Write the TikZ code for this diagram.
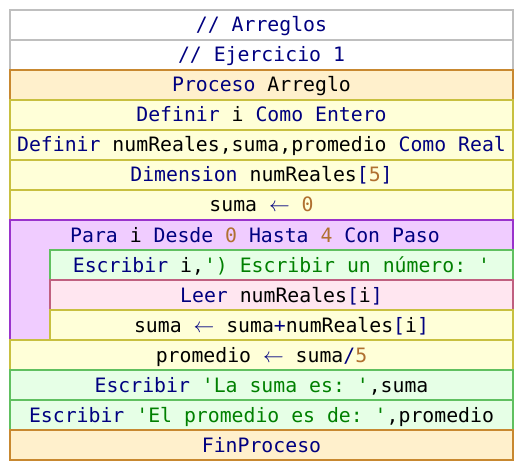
\documentclass[tikz,border=0pt]{standalone}
\usepackage{fontspec}
\setmonofont{DejaVu Sans Mono}
\definecolor{kwc}{RGB}{0,0,128}
\definecolor{numc}{RGB}{176,112,48}
\definecolor{strc}{RGB}{0,128,0}
\definecolor{cmtD}{RGB}{191,191,191}
\definecolor{prcF}{RGB}{255,240,204}
\definecolor{prcD}{RGB}{200,136,48}
\definecolor{yelF}{RGB}{255,255,216}
\definecolor{yelD}{RGB}{200,192,64}
\definecolor{purF}{RGB}{240,204,255}
\definecolor{purD}{RGB}{153,51,204}
\definecolor{grnF}{RGB}{230,255,230}
\definecolor{grnD}{RGB}{96,192,96}
\definecolor{pnkF}{RGB}{255,230,240}
\definecolor{pnkD}{RGB}{192,96,128}
\newcommand{\kw}[1]{\textcolor{kwc}{#1}}
\newcommand{\nm}[1]{\textcolor{numc}{#1}}
\newcommand{\st}[1]{\textcolor{strc}{#1}}
\newcommand{\asg}{\textcolor{kwc}{$\leftarrow$}}
\tikzset{
  codefont/.style={font=\ttfamily\fontsize{19.8}{24}\selectfont, text height=18pt, text depth=4pt, inner sep=0pt, outer sep=0pt},
  row/.style={codefont, rectangle, anchor=north west, minimum height=30pt, line width=2pt},
  outer/.style={row, minimum width=503pt},
  inner/.style={row, minimum width=463pt},
  cmt/.style={fill=white, draw=cmtD},
  prc/.style={fill=prcF, draw=prcD},
  yel/.style={fill=yelF, draw=yelD},
  pur/.style={fill=purF, draw=purD},
  grn/.style={fill=grnF, draw=grnD},
  pnk/.style={fill=pnkF, draw=pnkD},
}
\begin{document}
\begin{tikzpicture}[x=1pt,y=-1pt]
\useasboundingbox (0,0) rectangle (524,470);
\node[outer,cmt] (r1) at (10,10) {\kw{// Arreglos}};
\node[outer,cmt] (r2) at (10,40) {\kw{// Ejercicio 1}};
\node[outer,prc] (r3) at (10,70) {\kw{Proceso} Arreglo};
\node[outer,yel] (r4) at (10,100) {\kw{Definir} i \kw{Como Entero}};
\node[outer,yel] (r5) at (10,130) {\kw{Definir} numReales,suma,promedio \kw{Como Real}};
\node[outer,yel] (r6) at (10,160) {\kw{Dimension} numReales\kw{[}\nm{5}\kw{]}};
\node[outer,yel] (r7) at (10,190) {suma \asg{} \nm{0}};
\node[outer,pur,minimum height=120pt] (loop) at (10,220) {};
\node[codefont] (hdr) at (255,235) {\kw{Para} i \kw{Desde} \nm{0} \kw{Hasta} \nm{4} \kw{Con Paso}};
\node[inner,grn] (r9) at (50,250) {\kw{Escribir} i,\st{') Escribir un número: '}};
\node[inner,pnk] (r10) at (50,280) {\kw{Leer} numReales\kw{[}i\kw{]}};
\node[inner,yel] (r11) at (50,310) {suma \asg{} suma\kw{+}numReales\kw{[}i\kw{]}};
\node[outer,yel] (r12) at (10,340) {promedio \asg{} suma\kw{/}\nm{5}};
\node[outer,grn] (r13) at (10,370) {\kw{Escribir} \st{'La suma es: '},suma};
\node[outer,grn] (r14) at (10,400) {\kw{Escribir} \st{'El promedio es de: '},promedio};
\node[outer,prc] (r15) at (10,430) {\kw{FinProceso}};
\end{tikzpicture}
\end{document}
